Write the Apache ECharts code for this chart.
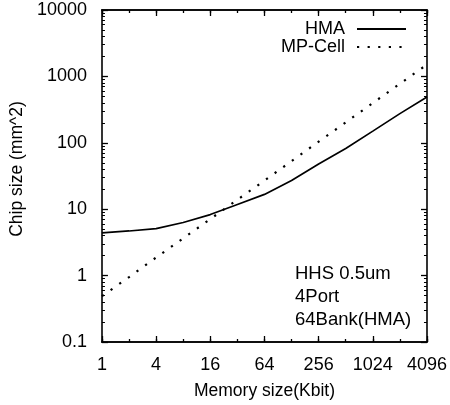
<!DOCTYPE html>
<html>
<head>
<meta charset="utf-8">
<script src="https://cdn.jsdelivr.net/npm/echarts@6/dist/echarts.min.js"></script>
<style>
  html, body { margin: 0; padding: 0; background: #fff; }
  #chart { width: 450px; height: 405px; }
</style>
</head>
<body>
<div id="chart"></div>
<script>
// Memory size (Kbit) sampled at every power of two
const memorySizes = [1, 2, 4, 8, 16, 32, 64, 128, 256, 512, 1024, 2048, 4096];
// Chip size (mm^2) for the HMA organisation
const hmaArea = [4.4, 4.7, 5.1, 6.3, 8.3, 11.8, 16.7, 27, 48, 82, 150, 275, 490];
// Chip size (mm^2) for the multi-port cell organisation
const mpCellArea = [0.49, 0.95, 1.87, 3.65, 7.1, 13.9, 27, 53, 104, 203, 397, 775, 1510];

const xTickLabels = ['1', '4', '16', '64', '256', '1024', '4096'];
const yTickLabels = ['0.1', '1', '10', '100', '1000', '10000'];
const noteLines = ['HHS 0.5um', '4Port', '64Bank(HMA)'];

const FONT = '"Liberation Sans", Arial, Helvetica, sans-serif';
const INK = '#000';

function xLabel(v) {
  const s = String(Math.round(v));
  return xTickLabels.includes(s) ? s : '';
}
function yLabel(v) {
  const hit = yTickLabels.find(t => Math.abs(Math.log10(parseFloat(t)) - Math.log10(v)) < 1e-6);
  return hit || '';
}

function xAxisDef(position, interval, tickLen, withLabels) {
  return {
    type: 'log', logBase: 2, min: 1, max: 4096, interval: interval,
    position: position,
    axisLine: { show: true, onZero: false, lineStyle: { color: INK, width: 1.6 } },
    axisTick: { show: true, inside: true, length: tickLen, lineStyle: { color: INK, width: 1.3 } },
    axisLabel: withLabels ? { show: true, margin: 14, fontSize: 18, fontFamily: FONT, color: INK, formatter: xLabel } : { show: false },
    splitLine: { show: false },
    minorTick: { show: false },
  };
}

function yAxisDef(position, withLabels) {
  return {
    type: 'log', logBase: 10, min: 0.1, max: 10000, interval: 1,
    position: position,
    axisLine: { show: true, onZero: false, lineStyle: { color: INK, width: 1.6 } },
    axisTick: { show: true, inside: true, length: 6, lineStyle: { color: INK, width: 1.3 } },
    minorTick: { show: true, splitNumber: 9, length: 3, lineStyle: { color: INK, width: 1 } },
    axisLabel: withLabels ? { show: true, margin: 15, fontSize: 18, fontFamily: FONT, color: INK, formatter: yLabel } : { show: false },
    splitLine: { show: false },
    minorSplitLine: { show: false },
  };
}

// One single-entry legend per series so each key row sits at its own height
function legendDef(seriesName, top) {
  return {
    data: [seriesName],
    orient: 'vertical',
    right: 38,
    top: top,
    align: 'right',
    itemWidth: 49,
    itemHeight: 14,
    itemStyle: { opacity: 0 },
    textStyle: { fontSize: 18, fontFamily: FONT, color: INK, padding: [0, 7, 0, 0] },
  };
}

const chart = echarts.init(document.getElementById('chart'), null, { renderer: 'canvas' });

const xMain = xAxisDef('bottom', 2, 6, true);
xMain.name = 'Memory size(Kbit)';
xMain.nameLocation = 'middle';
xMain.nameGap = 40;
xMain.nameTextStyle = { fontSize: 17.5, fontFamily: FONT, color: INK };

const yMain = yAxisDef('left', true);
yMain.name = 'Chip size (mm^2)';
yMain.nameLocation = 'middle';
yMain.nameGap = 66;
yMain.nameTextStyle = { fontSize: 17.5, fontFamily: FONT, color: INK, padding: [0, 0, 0, 14] };

chart.setOption({
  animation: false,
  backgroundColor: '#fff',
  textStyle: { fontFamily: FONT },
  grid: { left: 92, right: 22, top: 10, bottom: 62, containLabel: false },
  xAxis: [
    xMain,
    xAxisDef('bottom', 1, 3, false),
    xAxisDef('top', 2, 6, false),
    xAxisDef('top', 1, 3, false),
  ],
  yAxis: [yMain, yAxisDef('right', false)],
  legend: [legendDef('HMA', 15), legendDef('MP-Cell', 33)],
  graphic: [{
    type: 'text',
    left: 295,
    top: 263,
    style: {
      text: noteLines.join('\n'),
      font: '18.5px ' + FONT,
      lineHeight: 22.7,
      fill: INK,
    },
  }],
  series: [
    {
      name: 'HMA',
      type: 'line',
      xAxisIndex: 0, yAxisIndex: 0,
      data: memorySizes.map((m, i) => [m, hmaArea[i]]),
      symbol: 'none',
      lineStyle: { color: INK, width: 1.7 },
      itemStyle: { color: INK },
    },
    {
      name: 'MP-Cell',
      type: 'line',
      xAxisIndex: 0, yAxisIndex: 0,
      data: memorySizes.map((m, i) => [m, mpCellArea[i]]),
      symbol: 'none',
      lineStyle: { color: INK, width: 2.2, type: [2.2, 8.4] },
      itemStyle: { color: INK },
    },
  ],
});
</script>
</body>
</html>
